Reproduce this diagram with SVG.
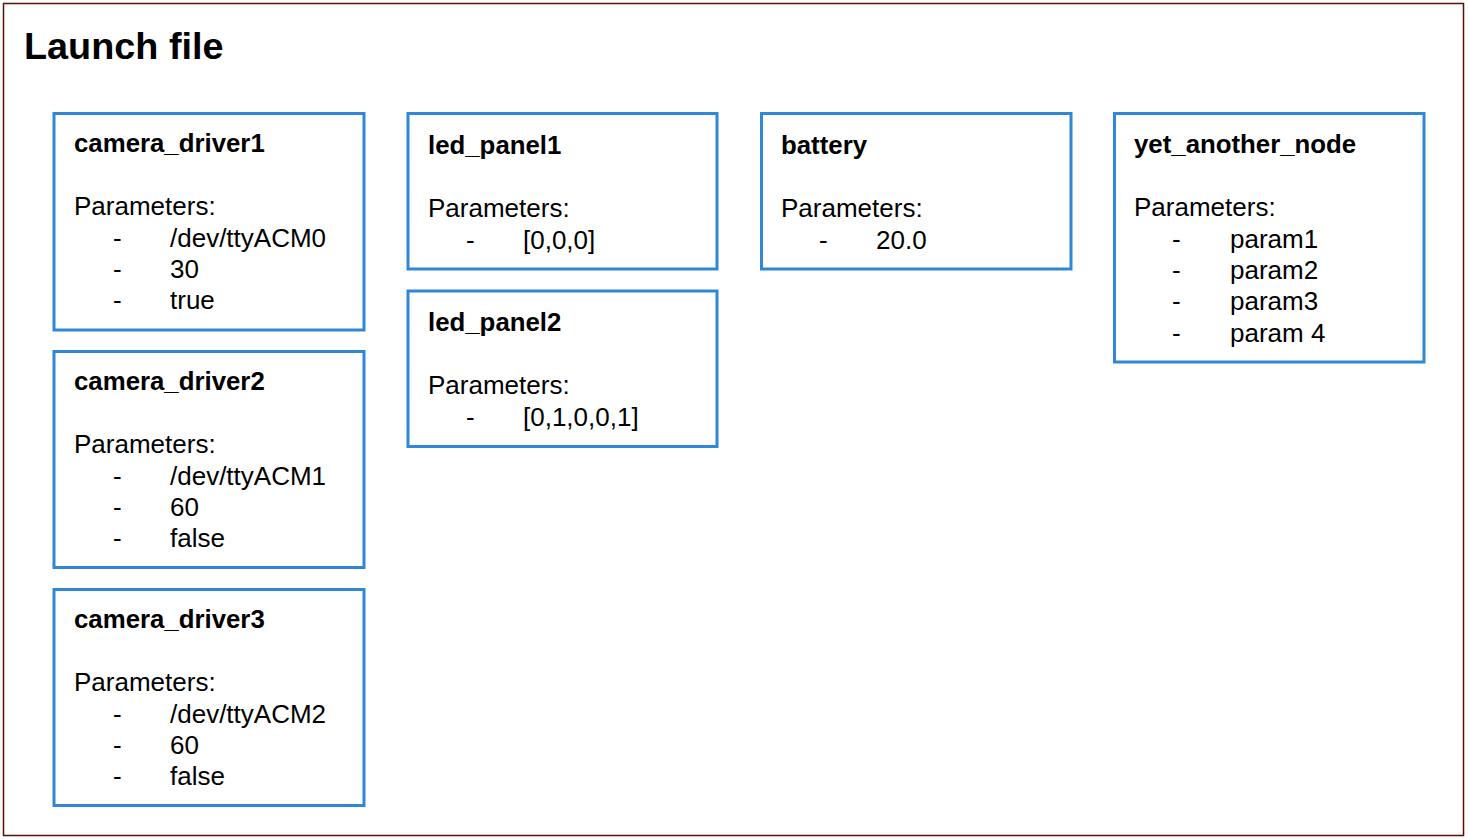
<svg xmlns="http://www.w3.org/2000/svg" width="1468" height="839" viewBox="0 0 1468 839">
<style>
.frame{fill:#ffffff;stroke:#5b0f00;stroke-width:1.5}
.box{fill:#ffffff;stroke:#2f87d6;stroke-width:3}
.title{font-family:"Liberation Sans",Arial,sans-serif;font-weight:bold;font-size:37.8px;fill:#000}
.h{font-family:"Liberation Sans",Arial,sans-serif;font-weight:bold;font-size:25.8px;fill:#000}
.t{font-family:"Liberation Sans",Arial,sans-serif;font-size:26px;fill:#000}
</style>
<rect class="frame" x="3.5" y="3.5" width="1460" height="832"/>
<text class="title" x="24" y="59">Launch file</text>
<g id="connectors"></g>
<g id="camera_driver1">
<rect class="box" x="54" y="113.5" width="310" height="216.5"/>
<text class="h" x="74" y="151.5">camera_driver1</text>
<text class="t" x="74" y="215">Parameters:</text>
<text class="t" x="113" y="246.5">-</text><text class="t" x="170" y="246.5">/dev/ttyACM0</text>
<text class="t" x="113" y="277.7">-</text><text class="t" x="170" y="277.7">30</text>
<text class="t" x="113" y="309">-</text><text class="t" x="170" y="309">true</text>
</g>
<g id="camera_driver2">
<rect class="box" x="54" y="351.5" width="310" height="216"/>
<text class="h" x="74" y="389.5">camera_driver2</text>
<text class="t" x="74" y="453">Parameters:</text>
<text class="t" x="113" y="484.5">-</text><text class="t" x="170" y="484.5">/dev/ttyACM1</text>
<text class="t" x="113" y="515.7">-</text><text class="t" x="170" y="515.7">60</text>
<text class="t" x="113" y="547">-</text><text class="t" x="170" y="547">false</text>
</g>
<g id="camera_driver3">
<rect class="box" x="54" y="589.5" width="310" height="216"/>
<text class="h" x="74" y="627.5">camera_driver3</text>
<text class="t" x="74" y="691">Parameters:</text>
<text class="t" x="113" y="722.5">-</text><text class="t" x="170" y="722.5">/dev/ttyACM2</text>
<text class="t" x="113" y="753.7">-</text><text class="t" x="170" y="753.7">60</text>
<text class="t" x="113" y="785">-</text><text class="t" x="170" y="785">false</text>
</g>
<g id="led_panel1">
<rect class="box" x="408" y="113.5" width="309" height="155.5"/>
<text class="h" x="428" y="153.5">led_panel1</text>
<text class="t" x="428" y="217">Parameters:</text>
<text class="t" x="466" y="248.5">-</text><text class="t" x="523" y="248.5">[0,0,0]</text>
</g>
<g id="led_panel2">
<rect class="box" x="408" y="291" width="309" height="155.5"/>
<text class="h" x="428" y="330.5">led_panel2</text>
<text class="t" x="428" y="394">Parameters:</text>
<text class="t" x="466" y="425.5">-</text><text class="t" x="523" y="425.5">[0,1,0,0,1]</text>
</g>
<g id="battery">
<rect class="box" x="761.5" y="113.5" width="309.5" height="155.5"/>
<text class="h" x="781" y="153.5">battery</text>
<text class="t" x="781" y="217">Parameters:</text>
<text class="t" x="819" y="248.5">-</text><text class="t" x="876" y="248.5">20.0</text>
</g>
<g id="yet_another_node">
<rect class="box" x="1114.5" y="113.5" width="309.5" height="248.5"/>
<text class="h" x="1134" y="152.5">yet_another_node</text>
<text class="t" x="1134" y="216">Parameters:</text>
<text class="t" x="1172" y="247.5">-</text><text class="t" x="1230" y="247.5">param1</text>
<text class="t" x="1172" y="279">-</text><text class="t" x="1230" y="279">param2</text>
<text class="t" x="1172" y="310">-</text><text class="t" x="1230" y="310">param3</text>
<text class="t" x="1172" y="341.5">-</text><text class="t" x="1230" y="341.5">param 4</text>
</g>
</svg>
